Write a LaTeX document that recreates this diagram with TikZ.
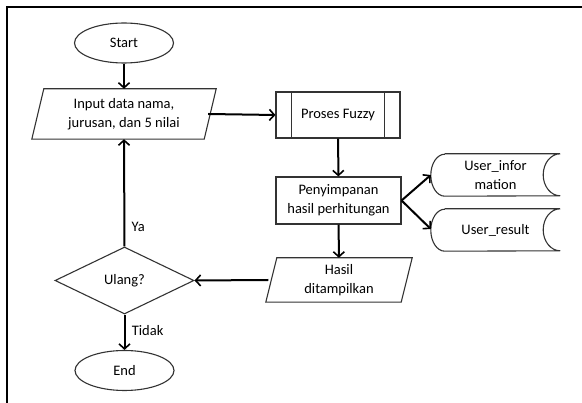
\documentclass[tikz,border=0pt]{standalone}
\usepackage{fontspec}
\setmainfont{Carlito}
\usetikzlibrary{arrows.meta,shapes.geometric}
\begin{document}
\begin{tikzpicture}[x=1pt,y=1pt,
  font=\fontsize{14.5}{18.5}\selectfont,
  shp/.style={draw=black!80, line width=1.1pt},
  term/.style={shp, ellipse, minimum width=99pt, minimum height=40pt, inner sep=0pt},
  ghost/.style={draw=none, inner sep=0pt, align=center},
  box/.style={shp, rectangle, inner sep=0pt, align=center},
  dec/.style={shp, diamond, minimum width=139pt, minimum height=67pt, inner sep=0pt, aspect=2.07},
  arr/.style={draw=black, line width=2pt, -{Straight Barb[length=5pt,width=11pt,line width=1.6pt]}},
  ln/.style={draw=black, line width=2pt}]
\useasboundingbox (0,0) rectangle (582,-403);
\draw[line width=2pt] (6.5,-403) -- (6.5,-7.5) -- (582,-7.5);

% nodes
\node[term] (start) at (124,-43) {Start};
\node[ghost, minimum width=172pt, minimum height=50pt] (in) at (124,-114) {Input data nama,\\jurusan, dan 5 nilai};
\draw[shp] ([xshift=6pt]in.north west) -- ([xshift=6pt]in.north east) -- ([xshift=-6pt]in.south east) -- ([xshift=-6pt]in.south west) -- cycle;

\node[box, minimum width=124pt, minimum height=46pt] (pf) at (338,-115) {Proses Fuzzy};
\draw[shp] ([xshift=16pt]pf.north west) -- ([xshift=16pt]pf.south west);
\draw[shp] ([xshift=-16pt]pf.north east) -- ([xshift=-16pt]pf.south east);

\node[box, minimum width=125pt, minimum height=47pt] (sv) at (338.5,-200.5) {Penyimpanan\\hasil perhitungan};

\node[ghost, minimum width=129pt, minimum height=42pt] (ui) at (495.5,-175) {User\_infor\\mation};
\draw[shp] ([xshift=14pt]ui.north west) -- (ui.north east) arc[start angle=90, end angle=270, x radius=17pt, y radius=21pt]
  -- ([xshift=14pt]ui.south west) arc[start angle=270, end angle=90, x radius=14pt, y radius=21pt];

\node[ghost, minimum width=129pt, minimum height=42pt] (ur) at (495.5,-230) {User\_result};
\draw[shp] ([xshift=14pt]ur.north west) -- (ur.north east) arc[start angle=90, end angle=270, x radius=17pt, y radius=21pt]
  -- ([xshift=14pt]ur.south west) arc[start angle=270, end angle=90, x radius=14pt, y radius=21pt];

\node[ghost, minimum width=135pt, minimum height=44pt] (hs) at (339,-280) {Hasil\\ditampilkan};
\draw[shp] ([xshift=5.5pt]hs.north west) -- ([xshift=5.5pt]hs.north east) -- ([xshift=-5.5pt]hs.south east) -- ([xshift=-5.5pt]hs.south west) -- cycle;

\node[dec] (ul) at (124.5,-280.5) {Ulang?};
\node[term] (end) at (124.5,-370.5) {End};

% connectors
\draw[arr] (start) -- (in);
\draw[arr] ([xshift=-2pt]in.east) -- (pf.west);
\draw[arr] (pf) -- (sv);
\draw[arr] (sv.east) -- (ui.west);
\draw[arr] (sv.east) -- ([yshift=1pt]ur.west);
\draw[arr] (sv) -- (hs);
\draw[arr] ([xshift=-3pt]hs.west) -- (ul.east);
\draw[arr] (ul.north) -- node[right=3pt, pos=0.185] {Ya} (in.south);
\draw[arr] (ul.south) -- node[right=3pt, pos=0.46] {Tidak} (end.north);
\end{tikzpicture}
\end{document}
